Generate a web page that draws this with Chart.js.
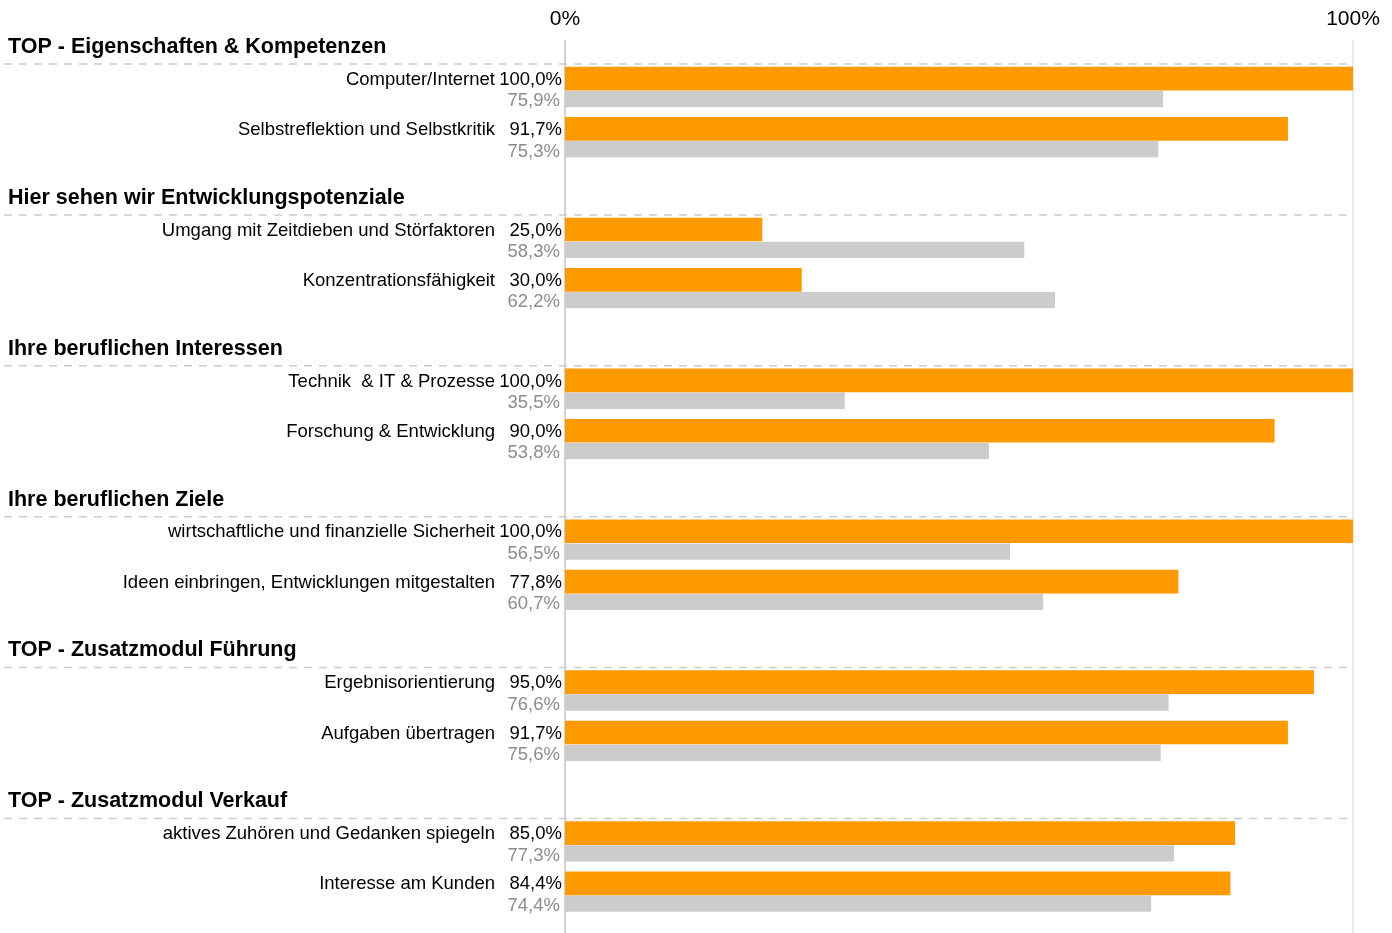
<!DOCTYPE html>
<html>
<head>
<meta charset="utf-8">
<script src="https://cdn.jsdelivr.net/npm/chart.js@4/dist/chart.umd.min.js"></script>
<style>
  html, body { margin: 0; padding: 0; background: #fff; }
  #wrap { width: 1392px; height: 933px; position: relative; }
</style>
</head>
<body>
<div id="wrap"><canvas id="profil"></canvas></div>
<script>
//================================ Data ================================
var sections = [
    'TOP - Eigenschaften & Kompetenzen',
    'Hier sehen wir Entwicklungspotenziale',
    'Ihre beruflichen Interessen',
    'Ihre beruflichen Ziele',
    'TOP - Zusatzmodul Führung',
    'TOP - Zusatzmodul Verkauf'
];
var items = [
    ['Computer/Internet', 'Selbstreflektion und Selbstkritik'],
    ['Umgang mit Zeitdieben und Störfaktoren', 'Konzentrationsfähigkeit'],
    ['Technik  & IT & Prozesse', 'Forschung & Entwicklung'],
    ['wirtschaftliche und finanzielle Sicherheit', 'Ideen einbringen, Entwicklungen mitgestalten'],
    ['Ergebnisorientierung', 'Aufgaben übertragen'],
    ['aktives Zuhören und Gedanken spiegeln', 'Interesse am Kunden']
];
var valuesOwn = [
    [100.0, 91.7],
    [25.0, 30.0],
    [100.0, 90.0],
    [100.0, 77.8],
    [95.0, 91.7],
    [85.0, 84.4]
];
var valuesCompare = [
    [75.9, 75.3],
    [58.3, 62.2],
    [35.5, 53.8],
    [56.5, 60.7],
    [76.6, 75.6],
    [77.3, 74.4]
];
var xTicks = [0, 100];

//================================ Build rows ==========================
// each section: item, item, (gap row holding the next header)
var rowLabels = [];
var rowOwn = [];
var rowCompare = [];
var rowKind = [];
for (var s in sections) {
    s = parseInt(s);
    for (var j = 0; j < items[s].length; j++) {
        rowLabels.push(items[s][j]);
        rowOwn.push(valuesOwn[s][j]);
        rowCompare.push(valuesCompare[s][j]);
        rowKind.push('item');
    }
    if (s < sections.length - 1) {
        rowLabels.push(sections[s + 1]);
        rowOwn.push(null);
        rowCompare.push(null);
        rowKind.push('header');
    }
}

function fmt(v) {
    return v.toFixed(1).replace('.', ',') + '%';
}

var FONT = '"Liberation Sans", Arial, sans-serif';

//================================ Plugin for labels/lines =============
var decorPlugin = {
    id: 'decor',
    beforeDatasetsDraw: function(chart) {
        var c = chart.ctx;
        var xs = chart.scales.x;
        var ys = chart.scales.y;
        var area = chart.chartArea;
        c.save();
        // vertical lines at 0% and 100%
        c.lineWidth = 1.5;
        c.strokeStyle = '#c4c4c4';
        c.beginPath();
        c.moveTo(xs.getPixelForValue(0), 40);
        c.lineTo(xs.getPixelForValue(0), chart.height);
        c.stroke();
        c.strokeStyle = '#e2e2e2';
        c.beginPath();
        c.moveTo(xs.getPixelForValue(100), 40);
        c.lineTo(xs.getPixelForValue(100), chart.height);
        c.stroke();

        // dashed separators + section headers
        var half = (ys.getPixelForValue(1) - ys.getPixelForValue(0)) / 2;
        var lineYs = [area.top - 1];
        for (var i = 0; i < rowKind.length; i++) {
            if (rowKind[i] === 'header') lineYs.push(ys.getPixelForValue(i) + half - 1);
        }
        c.setLineDash([8, 7]);
        c.lineWidth = 1.5;
        c.strokeStyle = '#cccccc';
        for (var k = 0; k < lineYs.length; k++) {
            c.beginPath();
            c.moveTo(4, lineYs[k]);
            c.lineTo(xs.getPixelForValue(100) - 1, lineYs[k]);
            c.stroke();
        }
        c.setLineDash([]);
        c.font = 'bold 21.5px ' + FONT;
        c.fillStyle = '#000';
        c.textAlign = 'left';
        c.textBaseline = 'middle';
        for (var k = 0; k < sections.length; k++) {
            c.fillText(sections[k], 8, lineYs[k] - 17);
        }
        c.restore();
    },
    afterDatasetsDraw: function(chart) {
        var c = chart.ctx;
        var x0 = chart.scales.x.getPixelForValue(0);
        var metaOwn = chart.getDatasetMeta(0);
        var metaCmp = chart.getDatasetMeta(1);
        c.save();
        c.textBaseline = 'middle';
        c.textAlign = 'right';
        c.font = '18.5px ' + FONT;
        for (var i = 0; i < rowKind.length; i++) {
            if (rowKind[i] !== 'item') continue;
            var yo = metaOwn.data[i].y;
            var yc = metaCmp.data[i].y;
            c.fillStyle = '#000';
            c.fillText(rowLabels[i], 495, yo + 1);
            c.fillText(fmt(rowOwn[i]), x0 - 3, yo + 1);
            c.fillStyle = '#8c8c8c';
            c.fillText(fmt(rowCompare[i]), x0 - 5, yc + 2.5);
        }
        c.restore();
    }
};

//================================ Chart ================================
var ctx = document.getElementById('profil');
var profilChart = new Chart(ctx, {
    type: 'bar',
    data: {
        labels: rowLabels,
        datasets: [{
            label: 'Ergebnis',
            data: rowOwn,
            backgroundColor: '#ff9900',
            barThickness: 23
        }, {
            label: 'Vergleich',
            data: rowCompare,
            backgroundColor: '#cccccc',
            borderColor: '#ffffff',
            borderWidth: { top: 1, bottom: 0, left: 0, right: 0 },
            borderSkipped: false,
            barThickness: 17
        }]
    },
    options: {
        indexAxis: 'y',
        responsive: true,
        maintainAspectRatio: false,
        animation: false,
        layout: {
            padding: { left: 565, right: 39, top: 6, bottom: 13 }
        },
        plugins: {
            legend: { display: false },
            tooltip: { enabled: false }
        },
        scales: {
            x: {
                position: 'top',
                min: 0,
                max: 100,
                afterBuildTicks: function(axis) {
                    axis.ticks = xTicks.map(function(v) { return { value: v }; });
                },
                afterFit: function(axis) {
                    axis.height = 59;
                    axis.paddingLeft = 0;
                    axis.paddingRight = 0;
                },
                grid: { display: false, drawTicks: false },
                border: { display: false },
                ticks: {
                    padding: 33,
                    color: '#000',
                    font: { family: FONT, size: 21 },
                    callback: function(v) { return v + '%'; }
                }
            },
            y: {
                display: false,
                grid: { display: false }
            }
        }
    },
    plugins: [decorPlugin]
});
</script>
</body>
</html>
